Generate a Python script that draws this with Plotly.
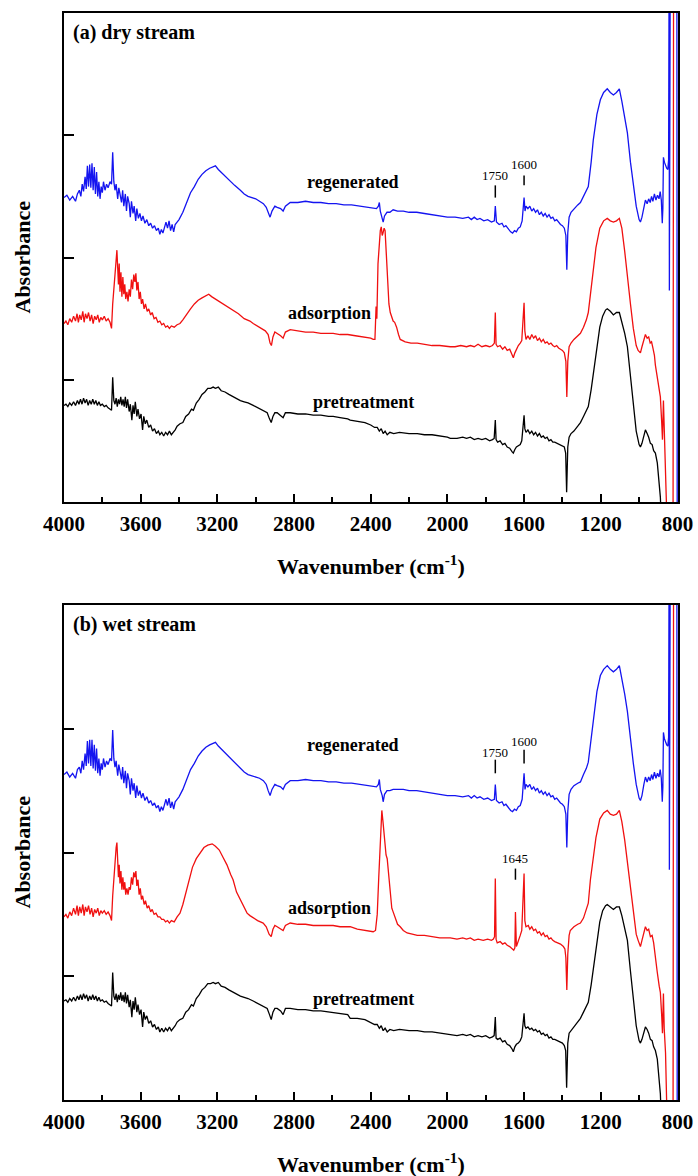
import plotly.graph_objects as go

# ---------------- (a) dry stream ----------------
wn_a_reg = [4000, 3985, 3970, 3955, 3940, 3930, 3920, 3912, 3905, 3898, 3890, 3884, 3878, 3872, 3866, 3860, 3854, 3848, 3842, 3836, 3830, 3824, 3818, 3812, 3806, 3800, 3794, 3786, 3778, 3770, 3760, 3752, 3746, 3740, 3734, 3728, 3720, 3714, 3708, 3700, 3694, 3688, 3680, 3674, 3668, 3660, 3654, 3648, 3640, 3634, 3626, 3620, 3612, 3604, 3596, 3588, 3578, 3568, 3558, 3548, 3538, 3528, 3518, 3508, 3500, 3492, 3484, 3476, 3468, 3460, 3452, 3444, 3436, 3428, 3420, 3410, 3400, 3380, 3360, 3340, 3320, 3300, 3280, 3260, 3240, 3220, 3210, 3195, 3170, 3140, 3110, 3080, 3060, 3040, 3020, 3000, 2980, 2960, 2945, 2935, 2925, 2915, 2900, 2888, 2870, 2857, 2845, 2820, 2780, 2740, 2700, 2660, 2620, 2580, 2540, 2500, 2460, 2420, 2390, 2370, 2360, 2355, 2350, 2340, 2335, 2328, 2315, 2300, 2283, 2260, 2230, 2200, 2160, 2120, 2080, 2040, 2000, 1960, 1920, 1890, 1875, 1860, 1845, 1830, 1810, 1790, 1770, 1755, 1750, 1744, 1730, 1715, 1705, 1695, 1680, 1670, 1660, 1650, 1640, 1630, 1620, 1610, 1600, 1595, 1590, 1580, 1570, 1560, 1550, 1540, 1530, 1520, 1510, 1500, 1490, 1480, 1470, 1460, 1450, 1440, 1430, 1420, 1410, 1400, 1390, 1382, 1377, 1372, 1365, 1355, 1340, 1320, 1306, 1290, 1275, 1265, 1250, 1239, 1220, 1202, 1185, 1166, 1150, 1134, 1118, 1103, 1090, 1075, 1061, 1045, 1030, 1015, 1000, 993, 985, 975, 967, 958, 950, 942, 935, 928, 920, 912, 904, 896, 890, 884, 879, 876, 873, 868, 862, 856, 850, 846, 843, 842, 841, 839, 837, 803, 801]
ab_a_reg = [2.49, 2.51, 2.47, 2.50, 2.46, 2.52, 2.55, 2.50, 2.60, 2.54, 2.66, 2.56, 2.75, 2.58, 2.76, 2.57, 2.77, 2.55, 2.74, 2.52, 2.70, 2.50, 2.62, 2.48, 2.58, 2.53, 2.62, 2.55, 2.60, 2.57, 2.62, 2.60, 2.86, 2.62, 2.55, 2.60, 2.48, 2.57, 2.52, 2.45, 2.55, 2.42, 2.52, 2.38, 2.50, 2.44, 2.33, 2.46, 2.36, 2.42, 2.30, 2.40, 2.32, 2.36, 2.30, 2.34, 2.28, 2.31, 2.26, 2.28, 2.24, 2.26, 2.22, 2.24, 2.19, 2.23, 2.20, 2.25, 2.29, 2.24, 2.30, 2.22, 2.27, 2.21, 2.27, 2.29, 2.31, 2.37, 2.45, 2.53, 2.58, 2.64, 2.68, 2.71, 2.73, 2.74, 2.75, 2.72, 2.68, 2.63, 2.59, 2.55, 2.52, 2.50, 2.49, 2.48, 2.46, 2.44, 2.41, 2.36, 2.33, 2.38, 2.42, 2.41, 2.40, 2.38, 2.42, 2.45, 2.45, 2.46, 2.45, 2.45, 2.44, 2.44, 2.43, 2.43, 2.42, 2.41, 2.40, 2.40, 2.42, 2.45, 2.38, 2.33, 2.29, 2.34, 2.37, 2.37, 2.39, 2.38, 2.38, 2.37, 2.37, 2.36, 2.35, 2.34, 2.33, 2.33, 2.32, 2.33, 2.31, 2.33, 2.31, 2.32, 2.30, 2.31, 2.29, 2.30, 2.42, 2.29, 2.27, 2.28, 2.25, 2.26, 2.23, 2.21, 2.20, 2.22, 2.21, 2.24, 2.25, 2.30, 2.49, 2.38, 2.42, 2.40, 2.42, 2.38, 2.40, 2.37, 2.39, 2.35, 2.37, 2.34, 2.36, 2.33, 2.35, 2.32, 2.33, 2.30, 2.31, 2.29, 2.27, 2.26, 2.24, 2.18, 1.90, 2.20, 2.33, 2.37, 2.40, 2.43, 2.45, 2.50, 2.55, 2.58, 2.78, 2.96, 3.17, 3.29, 3.35, 3.38, 3.35, 3.33, 3.35, 3.38, 3.28, 3.15, 3.02, 2.78, 2.58, 2.42, 2.31, 2.29, 2.33, 2.42, 2.47, 2.44, 2.48, 2.45, 2.50, 2.46, 2.52, 2.47, 2.51, 2.48, 2.54, 2.47, 2.28, 2.40, 2.82, 2.78, 2.75, 2.73, 2.72, 2.80, 4.6, 1.73, 4.6, 3.29, 4.6, 4.6, -0.5]

wn_a_ads = [4000, 3990, 3980, 3970, 3960, 3950, 3940, 3932, 3925, 3918, 3910, 3902, 3895, 3888, 3880, 3872, 3864, 3856, 3848, 3840, 3832, 3824, 3816, 3808, 3800, 3790, 3780, 3770, 3760, 3752, 3746, 3740, 3734, 3728, 3724, 3720, 3716, 3712, 3708, 3703, 3698, 3693, 3688, 3683, 3678, 3672, 3666, 3660, 3654, 3648, 3642, 3636, 3630, 3625, 3620, 3614, 3608, 3602, 3596, 3590, 3582, 3575, 3566, 3558, 3548, 3540, 3530, 3520, 3510, 3500, 3490, 3480, 3470, 3460, 3450, 3440, 3425, 3410, 3395, 3380, 3360, 3340, 3320, 3300, 3280, 3260, 3245, 3230, 3210, 3180, 3150, 3120, 3090, 3060, 3030, 3013, 2990, 2970, 2950, 2935, 2925, 2918, 2910, 2900, 2888, 2870, 2857, 2845, 2820, 2780, 2740, 2700, 2660, 2620, 2596, 2560, 2520, 2480, 2440, 2400, 2387, 2378, 2372, 2368, 2362, 2355, 2350, 2345, 2340, 2336, 2330, 2325, 2320, 2315, 2310, 2305, 2298, 2290, 2283, 2275, 2265, 2255, 2246, 2220, 2190, 2157, 2120, 2080, 2040, 2000, 1985, 1960, 1930, 1900, 1880, 1860, 1840, 1820, 1800, 1780, 1765, 1755, 1750, 1746, 1738, 1725, 1712, 1700, 1688, 1675, 1662, 1656, 1648, 1640, 1630, 1620, 1612, 1600, 1596, 1590, 1580, 1570, 1560, 1550, 1540, 1530, 1520, 1510, 1500, 1490, 1480, 1470, 1460, 1450, 1440, 1430, 1420, 1410, 1400, 1390, 1382, 1377, 1372, 1365, 1355, 1340, 1320, 1306, 1290, 1275, 1265, 1254, 1240, 1225, 1205, 1185, 1166, 1150, 1134, 1118, 1103, 1090, 1075, 1061, 1045, 1030, 1015, 1005, 993, 985, 975, 967, 958, 950, 942, 935, 928, 920, 915, 905, 895, 889, 882, 878, 873, 869, 862, 852, 823, 820, 797]
ab_a_ads = [1.46, 1.48, 1.45, 1.50, 1.47, 1.52, 1.48, 1.54, 1.47, 1.53, 1.49, 1.56, 1.47, 1.54, 1.50, 1.55, 1.48, 1.53, 1.46, 1.52, 1.49, 1.53, 1.47, 1.51, 1.49, 1.52, 1.48, 1.50, 1.47, 1.42, 1.62, 1.75, 1.85, 1.98, 2.06, 1.92, 1.78, 1.95, 1.72, 1.88, 1.68, 1.84, 1.70, 1.78, 1.66, 1.72, 1.64, 1.74, 1.68, 1.82, 1.74, 1.86, 1.80, 1.87, 1.73, 1.80, 1.66, 1.72, 1.62, 1.66, 1.58, 1.62, 1.56, 1.58, 1.53, 1.55, 1.50, 1.51, 1.47, 1.48, 1.45, 1.46, 1.43, 1.44, 1.42, 1.44, 1.43, 1.45, 1.46, 1.49, 1.54, 1.58, 1.62, 1.65, 1.67, 1.69, 1.70, 1.68, 1.66, 1.63, 1.60, 1.57, 1.54, 1.50, 1.48, 1.46, 1.44, 1.42, 1.40, 1.37, 1.30, 1.28, 1.35, 1.39, 1.38, 1.36, 1.34, 1.39, 1.41, 1.40, 1.39, 1.39, 1.38, 1.38, 1.38, 1.37, 1.37, 1.36, 1.35, 1.34, 1.33, 1.33, 1.60, 1.50, 1.95, 2.15, 2.22, 2.25, 2.18, 2.20, 2.24, 2.22, 2.05, 1.85, 1.70, 1.62, 1.55, 1.50, 1.48, 1.47, 1.43, 1.37, 1.33, 1.31, 1.30, 1.30, 1.29, 1.28, 1.28, 1.27, 1.27, 1.27, 1.28, 1.27, 1.28, 1.27, 1.29, 1.27, 1.28, 1.27, 1.28, 1.30, 1.55, 1.29, 1.27, 1.28, 1.25, 1.27, 1.24, 1.25, 1.20, 1.18, 1.22, 1.25, 1.28, 1.30, 1.32, 1.63, 1.40, 1.33, 1.36, 1.33, 1.37, 1.34, 1.36, 1.32, 1.34, 1.31, 1.33, 1.30, 1.31, 1.29, 1.30, 1.28, 1.27, 1.28, 1.26, 1.25, 1.24, 1.22, 1.15, 0.86, 1.15, 1.27, 1.30, 1.33, 1.36, 1.38, 1.43, 1.49, 1.55, 1.71, 1.90, 2.08, 2.24, 2.30, 2.32, 2.30, 2.29, 2.30, 2.32, 2.24, 2.05, 1.82, 1.62, 1.42, 1.28, 1.24, 1.22, 1.27, 1.33, 1.37, 1.34, 1.35, 1.30, 1.31, 1.26, 1.20, 1.12, 1.02, 0.90, 0.86, 0.65, 0.51, 0.83, 0.55, 0.32, -0.3, -0.5, 4.6, 4.6]

wn_a_pre = [4000, 3990, 3980, 3970, 3960, 3950, 3940, 3930, 3922, 3914, 3906, 3898, 3890, 3882, 3874, 3866, 3858, 3850, 3842, 3834, 3826, 3818, 3810, 3800, 3790, 3780, 3770, 3760, 3752, 3746, 3740, 3734, 3728, 3722, 3716, 3710, 3704, 3698, 3692, 3686, 3680, 3674, 3668, 3660, 3654, 3646, 3640, 3634, 3628, 3620, 3614, 3606, 3598, 3590, 3584, 3576, 3568, 3558, 3548, 3538, 3528, 3518, 3508, 3500, 3490, 3480, 3470, 3460, 3450, 3440, 3430, 3420, 3410, 3395, 3380, 3365, 3350, 3335, 3325, 3310, 3295, 3280, 3265, 3250, 3235, 3222, 3210, 3195, 3180, 3160, 3140, 3118, 3100, 3080, 3060, 3040, 3013, 2990, 2960, 2940, 2928, 2919, 2910, 2900, 2888, 2870, 2857, 2845, 2820, 2780, 2740, 2700, 2660, 2620, 2596, 2560, 2520, 2507, 2470, 2430, 2400, 2380, 2366, 2355, 2345, 2335, 2325, 2314, 2300, 2280, 2250, 2200, 2157, 2120, 2080, 2040, 2000, 1985, 1950, 1920, 1900, 1880, 1860, 1840, 1820, 1800, 1780, 1765, 1756, 1750, 1746, 1738, 1725, 1712, 1700, 1688, 1675, 1662, 1656, 1648, 1640, 1630, 1620, 1612, 1600, 1596, 1590, 1580, 1570, 1560, 1550, 1540, 1530, 1520, 1510, 1500, 1490, 1480, 1470, 1460, 1450, 1440, 1427, 1410, 1400, 1390, 1383, 1378, 1372, 1365, 1355, 1340, 1320, 1306, 1290, 1275, 1265, 1250, 1235, 1218, 1205, 1190, 1175, 1166, 1150, 1134, 1118, 1103, 1090, 1075, 1061, 1045, 1030, 1015, 1000, 993, 985, 975, 967, 958, 950, 941, 932, 924, 915, 905, 897, 889, 880, 797]
ab_a_pre = [0.79, 0.80, 0.78, 0.81, 0.79, 0.82, 0.79, 0.83, 0.80, 0.84, 0.80, 0.85, 0.81, 0.84, 0.79, 0.83, 0.80, 0.84, 0.80, 0.83, 0.79, 0.82, 0.79, 0.80, 0.78, 0.79, 0.77, 0.76, 0.75, 1.02, 0.83, 0.80, 0.85, 0.78, 0.84, 0.80, 0.86, 0.79, 0.84, 0.78, 0.86, 0.77, 0.84, 0.74, 0.80, 0.67, 0.79, 0.72, 0.82, 0.70, 0.76, 0.68, 0.72, 0.59, 0.70, 0.64, 0.67, 0.61, 0.63, 0.58, 0.60, 0.56, 0.58, 0.55, 0.57, 0.54, 0.57, 0.55, 0.58, 0.55, 0.57, 0.59, 0.62, 0.64, 0.65, 0.70, 0.72, 0.76, 0.75, 0.81, 0.84, 0.88, 0.90, 0.93, 0.93, 0.94, 0.93, 0.94, 0.91, 0.90, 0.88, 0.86, 0.85, 0.83, 0.82, 0.81, 0.79, 0.77, 0.75, 0.73, 0.68, 0.65, 0.70, 0.73, 0.73, 0.71, 0.69, 0.73, 0.73, 0.72, 0.72, 0.71, 0.71, 0.70, 0.70, 0.69, 0.68, 0.67, 0.66, 0.65, 0.63, 0.61, 0.61, 0.58, 0.60, 0.56, 0.58, 0.55, 0.57, 0.56, 0.57, 0.56, 0.56, 0.55, 0.55, 0.54, 0.53, 0.52, 0.52, 0.53, 0.52, 0.53, 0.51, 0.52, 0.51, 0.52, 0.50, 0.51, 0.52, 0.67, 0.51, 0.49, 0.50, 0.47, 0.48, 0.45, 0.44, 0.41, 0.40, 0.43, 0.45, 0.46, 0.47, 0.50, 0.71, 0.60, 0.57, 0.59, 0.56, 0.58, 0.55, 0.57, 0.54, 0.56, 0.53, 0.54, 0.52, 0.53, 0.50, 0.51, 0.49, 0.49, 0.48, 0.47, 0.46, 0.45, 0.40, 0.08, 0.45, 0.53, 0.56, 0.58, 0.62, 0.65, 0.70, 0.75, 0.78, 0.92, 1.08, 1.27, 1.43, 1.52, 1.57, 1.58, 1.56, 1.53, 1.55, 1.55, 1.48, 1.38, 1.27, 1.03, 0.78, 0.58, 0.47, 0.45, 0.48, 0.55, 0.59, 0.56, 0.53, 0.48, 0.47, 0.42, 0.40, 0.32, 0.20, 0.04, -0.3, -0.5]

# ---------------- (b) wet stream ----------------
wn_b_reg = list(wn_a_reg)
ab_b_reg = [2.63, 2.65, 2.61, 2.64, 2.60, 2.67, 2.69, 2.64, 2.74, 2.67, 2.80, 2.70, 2.90, 2.72, 2.91, 2.70, 2.91, 2.68, 2.87, 2.66, 2.84, 2.64, 2.76, 2.62, 2.72, 2.67, 2.76, 2.69, 2.74, 2.71, 2.76, 2.74, 2.99, 2.76, 2.69, 2.74, 2.62, 2.71, 2.66, 2.59, 2.69, 2.56, 2.66, 2.52, 2.64, 2.58, 2.47, 2.60, 2.50, 2.56, 2.44, 2.54, 2.46, 2.50, 2.44, 2.48, 2.42, 2.45, 2.40, 2.42, 2.38, 2.40, 2.36, 2.38, 2.33, 2.37, 2.34, 2.39, 2.43, 2.38, 2.44, 2.36, 2.41, 2.35, 2.41, 2.43, 2.45, 2.51, 2.59, 2.67, 2.72, 2.78, 2.82, 2.85, 2.87, 2.88, 2.89, 2.86, 2.82, 2.77, 2.73, 2.68, 2.65, 2.63, 2.62, 2.61, 2.60, 2.58, 2.55, 2.50, 2.46, 2.51, 2.55, 2.54, 2.53, 2.51, 2.55, 2.58, 2.58, 2.59, 2.58, 2.58, 2.57, 2.57, 2.56, 2.56, 2.55, 2.54, 2.53, 2.53, 2.55, 2.59, 2.51, 2.46, 2.41, 2.47, 2.50, 2.50, 2.51, 2.51, 2.51, 2.50, 2.50, 2.49, 2.48, 2.47, 2.46, 2.46, 2.45, 2.46, 2.44, 2.46, 2.44, 2.45, 2.43, 2.44, 2.42, 2.43, 2.55, 2.42, 2.40, 2.41, 2.38, 2.39, 2.36, 2.34, 2.33, 2.35, 2.34, 2.37, 2.38, 2.43, 2.64, 2.51, 2.55, 2.53, 2.55, 2.51, 2.53, 2.50, 2.52, 2.48, 2.50, 2.47, 2.49, 2.46, 2.48, 2.45, 2.46, 2.43, 2.44, 2.42, 2.40, 2.39, 2.37, 2.31, 2.04, 2.33, 2.47, 2.51, 2.54, 2.56, 2.57, 2.63, 2.68, 2.73, 2.92, 3.08, 3.30, 3.43, 3.48, 3.51, 3.48, 3.46, 3.48, 3.51, 3.41, 3.28, 3.14, 2.91, 2.72, 2.55, 2.44, 2.42, 2.46, 2.55, 2.61, 2.57, 2.61, 2.58, 2.63, 2.59, 2.65, 2.60, 2.64, 2.61, 2.67, 2.60, 2.41, 2.53, 2.97, 2.92, 2.89, 2.87, 2.86, 2.93, 4.6, 1.86, 4.6, 3.39, 4.6, 4.6, -0.5]

wn_b_ads = [4000, 3990, 3980, 3970, 3960, 3950, 3940, 3932, 3925, 3918, 3910, 3902, 3895, 3888, 3880, 3872, 3864, 3856, 3848, 3840, 3832, 3824, 3816, 3808, 3800, 3790, 3780, 3770, 3760, 3752, 3746, 3740, 3734, 3728, 3724, 3720, 3716, 3712, 3708, 3703, 3698, 3693, 3688, 3683, 3678, 3672, 3666, 3660, 3654, 3648, 3642, 3636, 3630, 3625, 3620, 3614, 3608, 3602, 3596, 3590, 3582, 3575, 3566, 3558, 3548, 3540, 3530, 3520, 3510, 3500, 3490, 3480, 3470, 3460, 3450, 3440, 3425, 3410, 3395, 3380, 3370, 3360, 3345, 3330, 3310, 3290, 3270, 3250, 3235, 3227, 3210, 3190, 3170, 3150, 3130, 3118, 3100, 3081, 3060, 3045, 3030, 3013, 2990, 2961, 2945, 2930, 2919, 2910, 2900, 2888, 2870, 2857, 2845, 2820, 2780, 2740, 2700, 2660, 2620, 2596, 2560, 2520, 2507, 2470, 2430, 2400, 2387, 2375, 2366, 2358, 2350, 2342, 2336, 2328, 2320, 2314, 2305, 2298, 2290, 2283, 2275, 2260, 2246, 2230, 2210, 2180, 2157, 2120, 2080, 2040, 2000, 1985, 1950, 1920, 1900, 1880, 1860, 1840, 1813, 1790, 1770, 1760, 1754, 1750, 1746, 1740, 1725, 1712, 1700, 1688, 1675, 1662, 1654, 1648, 1645, 1640, 1630, 1620, 1612, 1600, 1596, 1590, 1578, 1570, 1560, 1550, 1540, 1530, 1520, 1510, 1500, 1490, 1480, 1470, 1460, 1450, 1440, 1427, 1410, 1395, 1387, 1382, 1377, 1372, 1365, 1359, 1340, 1320, 1306, 1290, 1275, 1265, 1254, 1240, 1225, 1205, 1185, 1166, 1150, 1134, 1118, 1103, 1090, 1075, 1061, 1045, 1030, 1015, 1005, 993, 985, 975, 967, 958, 950, 941, 932, 924, 915, 905, 895, 889, 882, 878, 873, 869, 862, 852, 823, 820, 797]
ab_b_ads = [1.48, 1.50, 1.47, 1.52, 1.49, 1.55, 1.50, 1.57, 1.49, 1.56, 1.51, 1.58, 1.49, 1.56, 1.52, 1.57, 1.50, 1.55, 1.48, 1.54, 1.51, 1.55, 1.49, 1.53, 1.51, 1.53, 1.50, 1.52, 1.49, 1.45, 1.65, 1.80, 1.92, 2.04, 2.08, 1.94, 1.80, 1.90, 1.75, 1.85, 1.70, 1.80, 1.70, 1.76, 1.66, 1.71, 1.66, 1.72, 1.70, 1.80, 1.74, 1.84, 1.80, 1.85, 1.73, 1.78, 1.66, 1.71, 1.62, 1.65, 1.58, 1.61, 1.55, 1.57, 1.52, 1.54, 1.50, 1.51, 1.48, 1.48, 1.46, 1.46, 1.44, 1.45, 1.43, 1.45, 1.44, 1.48, 1.51, 1.58, 1.64, 1.72, 1.80, 1.88, 1.95, 2.00, 2.04, 2.06, 2.07, 2.07, 2.05, 2.02, 1.96, 1.90, 1.82, 1.78, 1.68, 1.62, 1.55, 1.51, 1.49, 1.47, 1.45, 1.43, 1.40, 1.34, 1.32, 1.38, 1.41, 1.40, 1.38, 1.37, 1.41, 1.43, 1.42, 1.42, 1.41, 1.41, 1.41, 1.41, 1.40, 1.40, 1.40, 1.38, 1.37, 1.36, 1.36, 1.37, 1.50, 1.80, 2.10, 2.34, 2.25, 2.10, 1.98, 1.95, 1.82, 1.70, 1.55, 1.52, 1.48, 1.42, 1.40, 1.37, 1.35, 1.34, 1.33, 1.33, 1.32, 1.31, 1.31, 1.31, 1.30, 1.31, 1.30, 1.31, 1.29, 1.30, 1.29, 1.30, 1.29, 1.30, 1.32, 1.79, 1.30, 1.27, 1.28, 1.26, 1.27, 1.25, 1.24, 1.22, 1.21, 1.23, 1.52, 1.24, 1.28, 1.33, 1.37, 1.83, 1.45, 1.40, 1.41, 1.38, 1.40, 1.37, 1.38, 1.35, 1.36, 1.33, 1.35, 1.32, 1.33, 1.30, 1.31, 1.29, 1.28, 1.27, 1.26, 1.24, 1.22, 1.15, 0.89, 1.18, 1.33, 1.37, 1.40, 1.42, 1.43, 1.47, 1.54, 1.59, 1.78, 1.95, 2.12, 2.27, 2.32, 2.34, 2.31, 2.30, 2.31, 2.34, 2.25, 2.10, 1.92, 1.70, 1.50, 1.34, 1.29, 1.24, 1.29, 1.36, 1.40, 1.37, 1.38, 1.32, 1.33, 1.27, 1.13, 1.03, 0.92, 0.87, 0.68, 0.54, 0.86, 0.58, 0.38, -0.3, -0.5, 4.6, 4.6]

wn_b_pre = list(wn_a_pre)
ab_b_pre = [0.80, 0.81, 0.79, 0.82, 0.80, 0.83, 0.80, 0.84, 0.81, 0.85, 0.81, 0.86, 0.82, 0.85, 0.80, 0.84, 0.81, 0.85, 0.81, 0.84, 0.80, 0.83, 0.80, 0.81, 0.79, 0.80, 0.78, 0.77, 0.76, 1.03, 0.84, 0.81, 0.86, 0.79, 0.85, 0.81, 0.87, 0.80, 0.85, 0.79, 0.87, 0.78, 0.85, 0.75, 0.81, 0.67, 0.80, 0.73, 0.83, 0.71, 0.77, 0.69, 0.73, 0.59, 0.71, 0.65, 0.68, 0.62, 0.64, 0.59, 0.61, 0.57, 0.59, 0.55, 0.58, 0.55, 0.58, 0.56, 0.59, 0.56, 0.58, 0.60, 0.63, 0.65, 0.66, 0.71, 0.73, 0.77, 0.76, 0.82, 0.85, 0.89, 0.91, 0.94, 0.94, 0.95, 0.94, 0.95, 0.92, 0.91, 0.89, 0.87, 0.86, 0.84, 0.83, 0.82, 0.80, 0.78, 0.76, 0.74, 0.69, 0.65, 0.71, 0.74, 0.74, 0.72, 0.69, 0.74, 0.74, 0.73, 0.73, 0.72, 0.72, 0.71, 0.71, 0.70, 0.69, 0.66, 0.66, 0.65, 0.63, 0.61, 0.61, 0.58, 0.60, 0.56, 0.58, 0.55, 0.57, 0.56, 0.57, 0.56, 0.56, 0.55, 0.55, 0.54, 0.53, 0.53, 0.52, 0.53, 0.52, 0.53, 0.51, 0.52, 0.51, 0.52, 0.50, 0.51, 0.52, 0.67, 0.50, 0.49, 0.50, 0.47, 0.48, 0.45, 0.44, 0.41, 0.39, 0.43, 0.45, 0.46, 0.48, 0.51, 0.70, 0.60, 0.58, 0.59, 0.57, 0.58, 0.56, 0.57, 0.55, 0.56, 0.53, 0.54, 0.52, 0.53, 0.50, 0.51, 0.49, 0.49, 0.48, 0.47, 0.46, 0.44, 0.40, 0.10, 0.46, 0.54, 0.56, 0.59, 0.63, 0.66, 0.71, 0.76, 0.79, 0.93, 1.09, 1.28, 1.44, 1.53, 1.57, 1.58, 1.56, 1.54, 1.56, 1.56, 1.49, 1.39, 1.29, 1.04, 0.80, 0.60, 0.48, 0.46, 0.49, 0.56, 0.59, 0.57, 0.54, 0.49, 0.48, 0.43, 0.40, 0.33, 0.21, 0.05, -0.3, -0.5]

# axis ticks
x_major = [4000, 3600, 3200, 2800, 2400, 2000, 1600, 1200, 800]
x_minor = [3800, 3400, 3000, 2600, 2200, 1800, 1400, 1000]
y_ticks = [1, 2, 3]

BLUE = "#1414f0"
RED = "#f01010"
BLACK = "#000000"
SERIF = "Liberation Serif"

W, H = 698, 1176
X_DOM = [64 / W, 678 / W]
PANELS = [
    # (y domain, xaxis, yaxis)
    ([1 - 502 / H, 1 - 13 / H], "x", "y"),
    ([1 - 1100 / H, 1 - 605 / H], "x2", "y2"),
]

fig = go.Figure()

series = [
    (wn_a_pre, ab_a_pre, BLACK, 0),
    (wn_a_ads, ab_a_ads, RED, 0),
    (wn_a_reg, ab_a_reg, BLUE, 0),
    (wn_b_pre, ab_b_pre, BLACK, 1),
    (wn_b_ads, ab_b_ads, RED, 1),
    (wn_b_reg, ab_b_reg, BLUE, 1),
]
for wn, ab, col, p in series:
    fig.add_trace(go.Scatter(
        x=wn, y=ab, mode="lines",
        line=dict(color=col, width=1.3),
        xaxis=PANELS[p][1], yaxis=PANELS[p][2],
        showlegend=False, hoverinfo="skip",
    ))

xcommon = dict(
    domain=X_DOM, range=[4000, 797], automargin=False,
    showline=True, mirror=True, linecolor="black", linewidth=2,
    ticks="inside", ticklen=8, tickwidth=2, tickcolor="black",
    tickmode="array", tickvals=x_major, ticktext=[str(v) for v in x_major],
    tickfont=dict(family=SERIF, size=21, color="black", weight="bold"),
    ticklabelstandoff=2,
    minor=dict(tickmode="array", tickvals=x_minor, ticks="inside",
               ticklen=5, tickwidth=2, tickcolor="black"),
    showgrid=False, zeroline=False,
)
ycommon = dict(
    range=[0, 4], automargin=False,
    showline=True, mirror=True, linecolor="black", linewidth=2,
    ticks="inside", ticklen=10, tickwidth=2, tickcolor="black",
    tickmode="array", tickvals=y_ticks, showticklabels=False,
    showgrid=False, zeroline=False,
)

fig.update_layout(
    width=W, height=H,
    margin=dict(l=0, r=0, t=0, b=0, autoexpand=False),
    paper_bgcolor="white", plot_bgcolor="white",
    xaxis=dict(**xcommon, anchor="y"),
    yaxis=dict(**ycommon, domain=PANELS[0][0], anchor="x"),
    xaxis2=dict(**xcommon, anchor="y2"),
    yaxis2=dict(**ycommon, domain=PANELS[1][0], anchor="x2"),
)

annotations = []
shapes = []


def label(text, x, y, xref, yref, size, bold=True, **kw):
    annotations.append(dict(
        text=f"<b>{text}</b>" if bold else text,
        x=x, y=y, xref=xref, yref=yref, showarrow=False,
        font=dict(family=SERIF, size=size, color="black"), **kw))


# panel headers and series names
label("(a) dry stream", 71 / W, 1 - 33 / H, "paper", "paper", 20, xanchor="left", yanchor="middle")
label("(b) wet stream", 71 / W, 1 - 624 / H, "paper", "paper", 20, xanchor="left", yanchor="middle")

names = [
    ("regenerated", 2491, 2.62, "x", "y"),
    ("adsorption", 2617, 1.55, "x", "y"),
    ("pretreatment", 2439, 0.82, "x", "y"),
    ("regenerated", 2491, 2.87, "x2", "y2"),
    ("adsorption", 2617, 1.55, "x2", "y2"),
    ("pretreatment", 2439, 0.82, "x2", "y2"),
]
for txt, xv, yv, xr, yr in names:
    label(txt, xv, yv, xr, yr, 18)

# band position markers: (wavenumber, text y, bar bottom, bar top, axes)
markers = [
    (1750, 2.67, 2.49, 2.59, "x", "y"),
    (1600, 2.76, 2.59, 2.67, "x", "y"),
    (1750, 2.81, 2.64, 2.75, "x2", "y2"),
    (1600, 2.90, 2.72, 2.83, "x2", "y2"),
    (1645, 1.95, 1.78, 1.87, "x2", "y2"),
]
for wn, ty, b0, b1, xr, yr in markers:
    label(str(wn), wn, ty, xr, yr, 13, bold=False, yanchor="middle")
    shapes.append(dict(type="line", x0=wn, x1=wn, y0=b0, y1=b1, xref=xr, yref=yr,
                       line=dict(color="black", width=1.5)))

# axis titles
for yc_px, xt_px in [(257.5, 565), (852.5, 1163)]:
    annotations.append(dict(
        text="<b>Absorbance</b>", x=22 / W, y=1 - yc_px / H, xref="paper", yref="paper",
        textangle=-90, showarrow=False, xanchor="center", yanchor="middle",
        font=dict(family=SERIF, size=22, color="black")))
    annotations.append(dict(
        text="<b>Wavenumber (cm<sup>-1</sup>)</b>", x=371 / W, y=1 - xt_px / H,
        xref="paper", yref="paper", showarrow=False, xanchor="center", yanchor="middle",
        font=dict(family=SERIF, size=22, color="black")))

fig.update_layout(annotations=annotations, shapes=shapes)
fig.write_html("out.html")
